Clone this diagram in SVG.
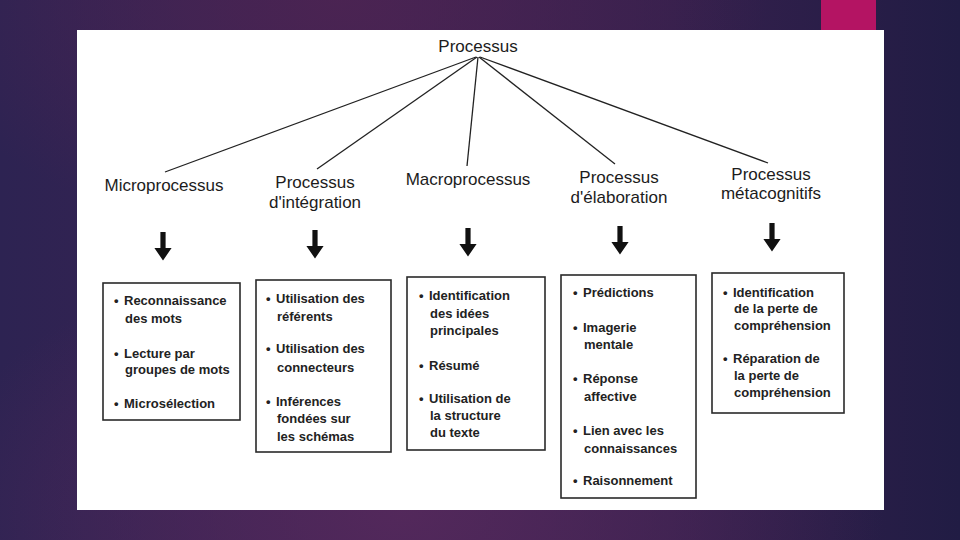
<svg xmlns="http://www.w3.org/2000/svg" width="960" height="540" viewBox="0 0 960 540">
<defs>
<linearGradient id="bg" x1="0" y1="0" x2="1" y2="0">
<stop offset="0" stop-color="#2d2352"/>
<stop offset="0.4" stop-color="#3e2253"/>
<stop offset="0.7" stop-color="#35204d"/>
<stop offset="1" stop-color="#211c44"/>
</linearGradient>
<radialGradient id="glow" cx="0.42" cy="0.95" r="0.5">
<stop offset="0" stop-color="#55295c" stop-opacity="0.9"/>
<stop offset="1" stop-color="#55295c" stop-opacity="0"/>
</radialGradient>
<radialGradient id="glow2" cx="0.35" cy="0" r="0.45">
<stop offset="0" stop-color="#4e2452" stop-opacity="0.8"/>
<stop offset="1" stop-color="#4e2452" stop-opacity="0"/>
</radialGradient>
<path id="arr" d="M-2.6 0 h5.2 v16 h6 l-8.6 12.5 l-8.6 -12.5 h6 z" fill="#111"/>
<style>
.h{font-family:"Liberation Sans",Arial,sans-serif;font-size:17px;fill:#1c1c1c;text-anchor:middle}
.t{font-family:"Liberation Sans",Arial,sans-serif;font-size:13px;font-weight:bold;fill:#222}
.b{fill:#fff;stroke:#2a2a2a;stroke-width:1.6}
.c{stroke:#222;stroke-width:1.3;fill:none}
</style>
</defs>
<rect width="960" height="540" fill="url(#bg)"/>
<rect width="960" height="540" fill="url(#glow)"/>
<rect width="960" height="540" fill="url(#glow2)"/>
<rect x="821" y="0" width="55" height="30" fill="#b41463"/>
<rect x="77" y="30" width="807" height="480" fill="#fff"/>

<g id="connectors">
<line class="c" x1="476" y1="57" x2="165" y2="172"/>
<line class="c" x1="477" y1="57" x2="317" y2="169"/>
<line class="c" x1="478" y1="57" x2="467" y2="166"/>
<line class="c" x1="479" y1="57" x2="615" y2="164"/>
<line class="c" x1="480" y1="57" x2="768" y2="163"/>
<use href="#arr" transform="translate(163,232)"/>
<use href="#arr" transform="translate(315,230)"/>
<use href="#arr" transform="translate(468,228)"/>
<use href="#arr" transform="translate(620,226)"/>
<use href="#arr" transform="translate(772,223)"/>
</g>

<g id="root"><text class="h" x="478" y="52">Processus</text></g>

<g id="h-micro"><text class="h" x="164" y="191">Microprocessus</text></g>
<g id="h-integ"><text class="h" x="315" y="188">Processus</text><text class="h" x="315" y="208">d'intégration</text></g>
<g id="h-macro"><text class="h" x="468" y="185">Macroprocessus</text></g>
<g id="h-elab"><text class="h" x="619" y="183">Processus</text><text class="h" x="619" y="203">d'élaboration</text></g>
<g id="h-meta"><text class="h" x="771" y="180">Processus</text><text class="h" x="771" y="199">métacognitifs</text></g>

<g id="box-micro">
<rect class="b" x="103" y="283" width="137" height="137"/>
<text class="t" x="114" y="305">•</text><text class="t" x="124" y="305">Reconnaissance</text>
<text class="t" x="125" y="323">des mots</text>
<text class="t" x="114" y="358">•</text><text class="t" x="124" y="358">Lecture par</text>
<text class="t" x="125" y="374">groupes de mots</text>
<text class="t" x="114" y="408">•</text><text class="t" x="124" y="408">Microsélection</text>
</g>

<g id="box-integ">
<rect class="b" x="256" y="280" width="135" height="172"/>
<text class="t" x="266" y="303">•</text><text class="t" x="276" y="303">Utilisation des</text>
<text class="t" x="277" y="321">référents</text>
<text class="t" x="266" y="353">•</text><text class="t" x="276" y="353">Utilisation des</text>
<text class="t" x="277" y="372">connecteurs</text>
<text class="t" x="266" y="406">•</text><text class="t" x="276" y="406">Inférences</text>
<text class="t" x="277" y="423">fondées sur</text>
<text class="t" x="277" y="441">les schémas</text>
</g>

<g id="box-macro">
<rect class="b" x="407" y="277" width="138" height="173"/>
<text class="t" x="419" y="300">•</text><text class="t" x="429" y="300">Identification</text>
<text class="t" x="430" y="318">des idées</text>
<text class="t" x="430" y="335">principales</text>
<text class="t" x="419" y="370">•</text><text class="t" x="429" y="370">Résumé</text>
<text class="t" x="419" y="403">•</text><text class="t" x="429" y="403">Utilisation de</text>
<text class="t" x="430" y="420">la structure</text>
<text class="t" x="430" y="437">du texte</text>
</g>

<g id="box-elab">
<rect class="b" x="561" y="275" width="135" height="223"/>
<text class="t" x="573" y="297">•</text><text class="t" x="583" y="297">Prédictions</text>
<text class="t" x="573" y="332">•</text><text class="t" x="583" y="332">Imagerie</text>
<text class="t" x="584" y="349">mentale</text>
<text class="t" x="573" y="383">•</text><text class="t" x="583" y="383">Réponse</text>
<text class="t" x="584" y="401">affective</text>
<text class="t" x="573" y="435">•</text><text class="t" x="583" y="435">Lien avec les</text>
<text class="t" x="584" y="453">connaissances</text>
<text class="t" x="573" y="485">•</text><text class="t" x="583" y="485">Raisonnement</text>
</g>

<g id="box-meta">
<rect class="b" x="712" y="273" width="132" height="140"/>
<text class="t" x="723" y="297">•</text><text class="t" x="733" y="297">Identification</text>
<text class="t" x="734" y="313">de la perte de</text>
<text class="t" x="734" y="330">compréhension</text>
<text class="t" x="723" y="363">•</text><text class="t" x="733" y="363">Réparation de</text>
<text class="t" x="734" y="380">la perte de</text>
<text class="t" x="734" y="397">compréhension</text>
</g>
</svg>
